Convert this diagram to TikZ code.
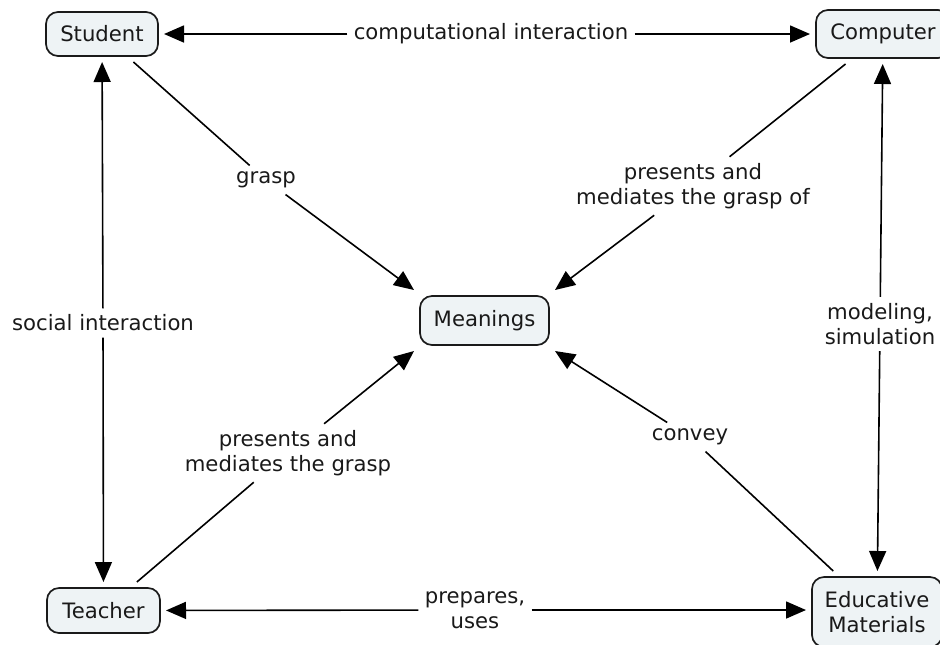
\documentclass[tikz,border=0pt]{standalone}
\usepackage{fontspec}
\setmainfont{DejaVu Sans}
\usetikzlibrary{arrows.meta}
\definecolor{boxfill}{HTML}{EEF3F5}
\definecolor{boxline}{HTML}{1A1A1A}
\begin{document}
\begin{tikzpicture}[x=0.5pt,y=-0.5pt,
  txt/.style={font=\fontsize{10.6}{12.6}\selectfont, align=center, text=black!90},
  concept/.style={txt, draw=boxline, line width=0.85pt, fill=boxfill, rounded corners=6pt, outer sep=3pt, inner sep=0pt},
  lbl/.style={txt, inner sep=3pt},
  conn/.style={line width=0.8pt, draw=black},
  arr/.style={conn, -{Triangle[length=10pt,width=8.5pt]}}]
\useasboundingbox (0,0) rectangle (940,644);
% concepts
\node[concept, minimum width=56pt, minimum height=22pt] (st) at (102,34) {Student};
\node[concept, minimum width=67pt, minimum height=24pt] (co) at (883,34) {Computer};
\node[concept, minimum width=64.5pt, minimum height=24.5pt] (me) at (484.5,320.5) {Meanings};
\node[concept, minimum width=56.5pt, minimum height=22.5pt] (te) at (103.5,610.5) {Teacher};
\node[concept, minimum width=65pt, minimum height=35pt] (ed) at (877,612) {Educative\\Materials};
% linking phrases
\node[lbl] (l1) at (491,34) {computational interaction};
\node[lbl] (l2) at (266,180) {grasp};
\node[lbl] (l3) at (693,186) {presents and\\mediates the grasp of};
\node[lbl] (l4) at (103,323) {social interaction};
\node[lbl] (l5) at (880,324) {modeling,\\simulation};
\node[lbl] (l6) at (288,453) {presents and\\mediates the grasp};
\node[lbl] (l7) at (690,437) {convey};
\node[lbl] (l8) at (475,610) {prepares,\\uses};
% connectors
\draw[arr] (l1) -- (st);
\draw[arr] (l1) -- (co);
\draw[conn] (st) -- (l2);
\draw[arr] (l2) -- (me.north west);
\draw[conn] (co) -- (l3);
\draw[arr] (l3) -- (me.north east);
\draw[arr] (l4) -- (st);
\draw[arr] (l4) -- (te);
\draw[arr] (l5) -- (co);
\draw[arr] (l5) -- (ed);
\draw[conn] (te) -- (l6);
\draw[arr] (l6) -- (me.south west);
\draw[conn] (ed) -- (l7);
\draw[arr] (l7) -- (me.south east);
\draw[arr] (l8) -- (te);
\draw[arr] (l8) -- (ed.west |- l8);
\end{tikzpicture}
\end{document}
